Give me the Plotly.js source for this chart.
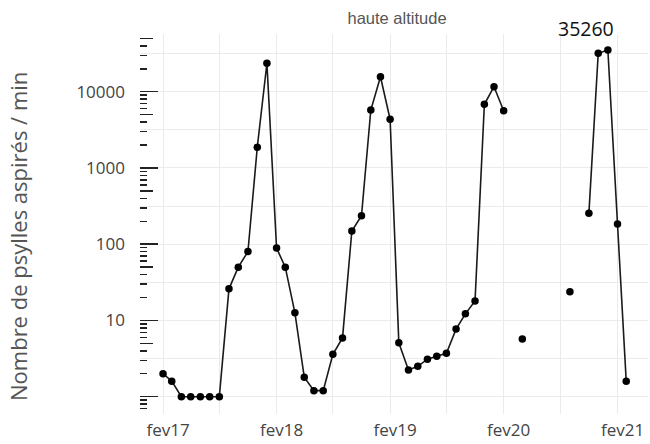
<!DOCTYPE html>
<html>
<head>
<meta charset="utf-8">
<script src="https://cdn.plot.ly/plotly-3.0.1.min.js"></script>
<style>html,body{margin:0;padding:0;background:#fff;}#chart{width:650px;height:444px;}</style>
</head>
<body>
<div id="chart"></div>
<script>
// Monthly sampling dates (Feb 2017 - Mar 2021)
const months = [
  "2017-02-01","2017-03-01","2017-04-01","2017-05-01","2017-06-01","2017-07-01","2017-08-01",
  "2017-09-01","2017-10-01","2017-11-01","2017-12-01","2018-01-01","2018-02-01","2018-03-01",
  "2018-04-01","2018-05-01","2018-06-01","2018-07-01","2018-08-01","2018-09-01","2018-10-01",
  "2018-11-01","2018-12-01","2019-01-01","2019-02-01","2019-03-01","2019-04-01","2019-05-01",
  "2019-06-01","2019-07-01","2019-08-01","2019-09-01","2019-10-01","2019-11-01","2019-12-01",
  "2020-01-01","2020-02-01","2020-03-01","2020-04-01","2020-05-01","2020-06-01","2020-07-01",
  "2020-08-01","2020-09-01","2020-10-01","2020-11-01","2020-12-01","2021-01-01","2021-02-01",
  "2021-03-01"
];
// Psyllids aspirated per minute (null = no sampling)
const psyllids = [
  2.0, 1.6, 1, 1, 1, 1, 1,
  26, 50, 80, 1870, 23600, 89, 50,
  12.6, 1.8, 1.2, 1.2, 3.6, 5.9, 149,
  236, 5750, 15700, 4350, 5.1, 2.24, 2.5,
  3.1, 3.4, 3.7, 7.7, 12.2, 18, 6840,
  11640, 5630, null, 5.7, null, null, null,
  null, 23.8, null, 254, 31900, 35260, 184,
  1.6
];
const yearTicks = ["2017-02-01","2018-02-01","2019-02-01","2020-02-01","2021-02-01"];
const yearLabels = ["fev17","fev18","fev19","fev20","fev21"];
const halfYearTicks = ["2017-08-01","2018-08-01","2019-08-01","2020-08-01"];
const yTickVals = [1, 10, 100, 1000, 10000];
const yTickText = ["", "10", "100", "1000", "10000"];
const yHalfDecades = [3.1623, 31.623, 316.23, 3162.3, 31623];
const midTicks = [0.5, 5, 50, 500, 5000, 50000];
const shortTicks = [0.6,0.7,0.8,0.9, 2,3,4,6,7,8,9, 20,30,40,60,70,80,90, 200,300,400,600,700,800,900,
  2000,3000,4000,6000,7000,8000,9000, 20000,30000,40000];
const titleText = "haute altitude";
const yTitle = "Nombre de psylles aspirés / min";

const maxVal = Math.max(...psyllids.filter(v => v !== null));
const maxDate = months[psyllids.indexOf(maxVal)];

const yRange = [-0.227, 4.757];
const xRange = ["2016-11-19", "2021-05-10"];
const tickColor = "#222";

const traces = [
  {x: months, y: psyllids, type: "scatter", mode: "lines+markers", connectgaps: false,
   line: {color: "#1a1a1a", width: 1.6}, marker: {color: "#000", size: 7.5},
   hoverinfo: "x+y", showlegend: false},
  {x: [], y: [], yaxis: "y2", type: "scatter", showlegend: false},
  {x: [], y: [], yaxis: "y3", type: "scatter", showlegend: false}
];

const layout = {
  width: 650, height: 444,
  margin: {l: 140, r: 2, t: 34, b: 30},
  paper_bgcolor: "#fff", plot_bgcolor: "#fff",
  showlegend: false,
  title: {text: titleText, x: 0.506, xref: "paper", y: 0.96, yref: "container", xanchor: "center", yanchor: "middle",
          font: {family: "Liberation Sans, Arial, sans-serif", size: 16.5, color: "#555"}},
  xaxis: {type: "date", range: xRange, tickvals: yearTicks, ticktext: yearLabels,
          showgrid: true, gridcolor: "#ebebeb", gridwidth: 1, showline: false, zeroline: false, ticks: "",
          ticklabelstandoff: 4, ticklabelshift: 5,
          tickfont: {family: "Open Sans, sans-serif", size: 17, color: "#444"},
          minor: {tickvals: halfYearTicks, showgrid: true, gridcolor: "#ebebeb", gridwidth: 1, ticks: ""}},
  yaxis: {type: "log", range: yRange, tickvals: yTickVals, ticktext: yTickText,
          showgrid: true, gridcolor: "#ebebeb", gridwidth: 1, showline: false, zeroline: false,
          ticks: "inside", ticklen: 18, tickwidth: 1.5, tickcolor: tickColor,
          ticklabelstandoff: 14,
          tickfont: {family: "Open Sans, sans-serif", size: 17, color: "#444"},
          minor: {tickvals: yHalfDecades, showgrid: true, gridcolor: "#ebebeb", gridwidth: 1, ticks: ""}},
  yaxis2: {type: "log", range: yRange, overlaying: "y", side: "left", anchor: "x",
           tickvals: midTicks, showticklabels: false, showgrid: false, zeroline: false, showline: false,
           ticks: "inside", ticklen: 13, tickwidth: 1.5, tickcolor: tickColor},
  yaxis3: {type: "log", range: yRange, overlaying: "y", side: "left", anchor: "x",
           tickvals: shortTicks, showticklabels: false, showgrid: false, zeroline: false, showline: false,
           ticks: "inside", ticklen: 7, tickwidth: 1.5, tickcolor: tickColor},
  annotations: [
    {x: maxDate, y: Math.log10(maxVal), xref: "x", yref: "y", text: String(maxVal), showarrow: false,
     xshift: -22, yshift: 21, font: {family: "Open Sans, sans-serif", size: 19.5, color: "#111"}},
    {x: -0.240, y: 0.466, xref: "paper", yref: "paper", text: yTitle, textangle: -90, showarrow: false,
     xanchor: "center", yanchor: "middle",
     font: {family: "Open Sans, sans-serif", size: 22, color: "#555"}}
  ]
};

Plotly.newPlot("chart", traces, layout, {displayModeBar: false, staticPlot: true});
</script>
</body>
</html>
